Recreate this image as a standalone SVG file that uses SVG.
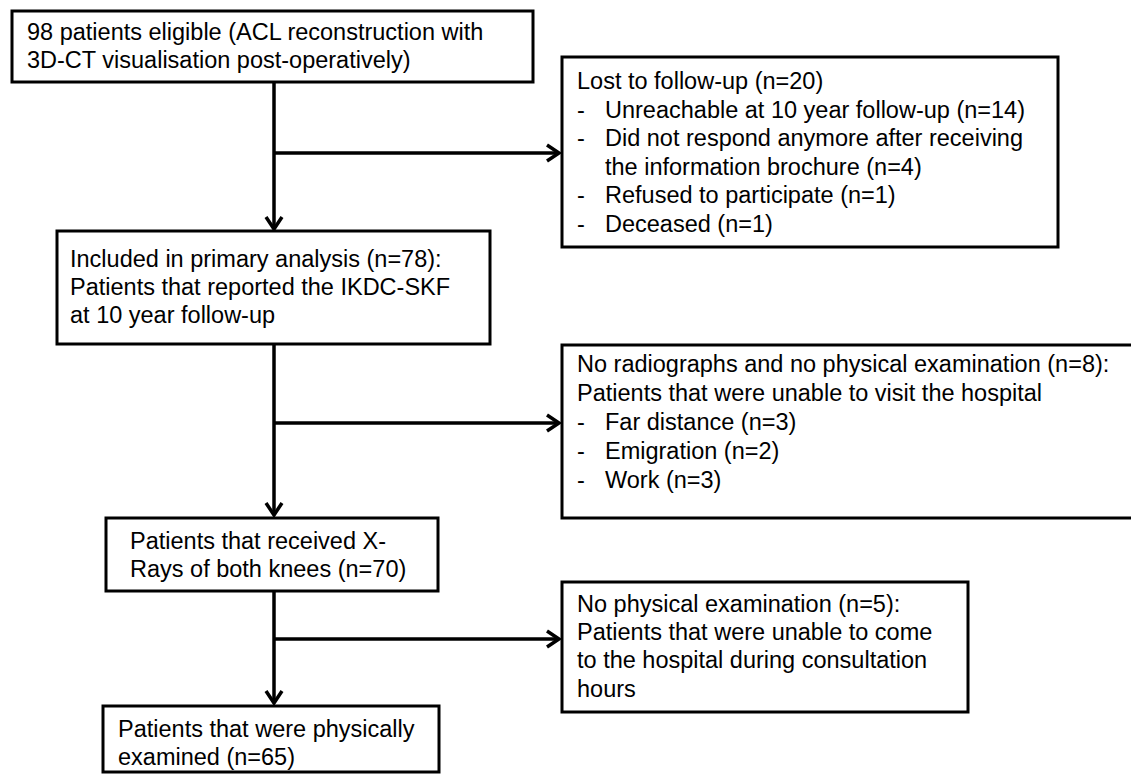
<svg xmlns="http://www.w3.org/2000/svg" width="1131" height="776" viewBox="0 0 1131 776">
<style>
.box{fill:#fff;stroke:#000;stroke-width:3}
.t{font-family:"Liberation Sans",Arial,sans-serif;font-size:23.5px;fill:#000}
.c{fill:none;stroke:#000;stroke-width:3.5}
</style>
<defs>
<marker id="ah" markerUnits="userSpaceOnUse" markerWidth="30" markerHeight="30" refX="0" refY="0" viewBox="-15 -15 30 30" orient="auto" overflow="visible">
<path d="M-12,-8 L0,0 L-12,8" fill="none" stroke="#000" stroke-width="3.5"/>
</marker>
</defs>
<rect width="1131" height="776" fill="#fff"/>
<g id="connectors">
<path class="c" d="M274,82 V229" marker-end="url(#ah)"/>
<path class="c" d="M274,153 H559" marker-end="url(#ah)"/>
<path class="c" d="M274,344 V515" marker-end="url(#ah)"/>
<path class="c" d="M274,423 H559" marker-end="url(#ah)"/>
<path class="c" d="M274,591 V703" marker-end="url(#ah)"/>
<path class="c" d="M274,639 H559" marker-end="url(#ah)"/>
</g>
<g id="eligible">
<rect class="box" x="12" y="11" width="521" height="71"/>
<text class="t" x="27" y="40">98 patients eligible (ACL reconstruction with</text>
<text class="t" x="27" y="68">3D-CT visualisation post-operatively)</text>
</g>
<g id="lost">
<rect class="box" x="562" y="57" width="496" height="190"/>
<text class="t" x="577" y="89">Lost to follow-up (n=20)</text>
<text class="t" x="577" y="117.5">-</text><text class="t" x="605" y="117.5">Unreachable at 10 year follow-up (n=14)</text>
<text class="t" x="577" y="146">-</text><text class="t" x="605" y="146">Did not respond anymore after receiving</text>
<text class="t" x="605" y="174.5">the information brochure (n=4)</text>
<text class="t" x="577" y="203">-</text><text class="t" x="605" y="203">Refused to participate (n=1)</text>
<text class="t" x="577" y="231.5">-</text><text class="t" x="605" y="231.5">Deceased (n=1)</text>
</g>
<g id="included">
<rect class="box" x="57" y="231" width="433" height="113"/>
<text class="t" x="70" y="267">Included in primary analysis (n=78):</text>
<text class="t" x="70" y="295">Patients that reported the IKDC-SKF</text>
<text class="t" x="70" y="323">at 10 year follow-up</text>
</g>
<g id="noradiographs">
<rect class="box" x="562" y="345" width="580" height="173"/>
<text class="t" x="577" y="372">No radiographs and no physical examination (n=8):</text>
<text class="t" x="577" y="401">Patients that were unable to visit the hospital</text>
<text class="t" x="577" y="430">-</text><text class="t" x="605" y="430">Far distance (n=3)</text>
<text class="t" x="577" y="459">-</text><text class="t" x="605" y="459">Emigration (n=2)</text>
<text class="t" x="577" y="488">-</text><text class="t" x="605" y="488">Work (n=3)</text>
</g>
<g id="xrays">
<rect class="box" x="106" y="518" width="332" height="73"/>
<text class="t" x="130" y="549">Patients that received X-</text>
<text class="t" x="130" y="577">Rays of both knees (n=70)</text>
</g>
<g id="nophysical">
<rect class="box" x="562" y="582" width="406" height="130"/>
<text class="t" x="577" y="612">No physical examination (n=5):</text>
<text class="t" x="577" y="640">Patients that were unable to come</text>
<text class="t" x="577" y="668">to the hospital during consultation</text>
<text class="t" x="577" y="697">hours</text>
</g>
<g id="examined">
<rect class="box" x="103" y="706" width="336" height="66"/>
<text class="t" x="118" y="737">Patients that were physically</text>
<text class="t" x="118" y="765">examined (n=65)</text>
</g>
</svg>
